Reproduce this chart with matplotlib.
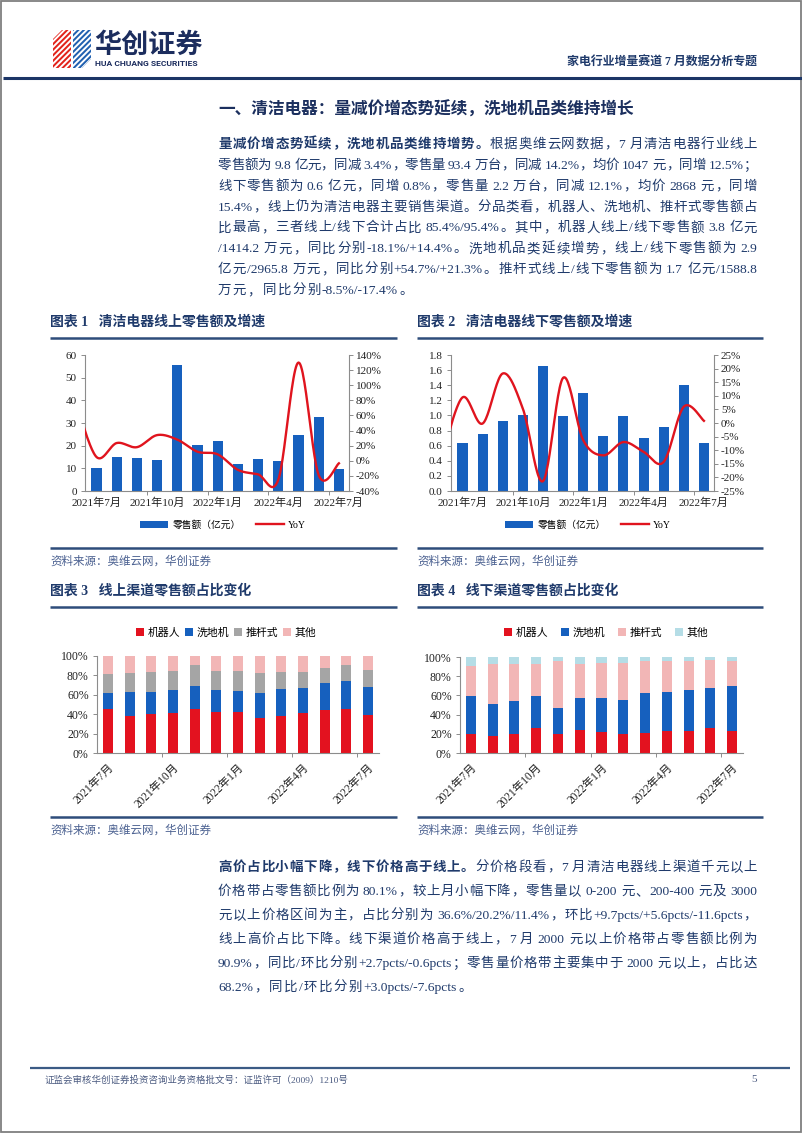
import matplotlib
matplotlib.use('Agg')
import numpy as np
import matplotlib.pyplot as plt
from matplotlib.patches import Rectangle, Polygon, Patch
from matplotlib.lines import Line2D

# ---------------- data ----------------
months = ['2021年7月', '2021年8月', '2021年9月', '2021年10月', '2021年11月', '2021年12月',
          '2022年1月', '2022年2月', '2022年3月', '2022年4月', '2022年5月', '2022年6月', '2022年7月']
tick_months = ['2021年7月', '2021年10月', '2022年1月', '2022年4月', '2022年7月']

online_sales = [10.3, 14.8, 14.6, 13.8, 55.5, 20.4, 22.0, 11.8, 14.2, 13.1, 24.6, 32.7, 9.8]
# YoY series begins at 2021年6月 (partly hidden behind the left axis)
online_yoy = [75, 5, 23.5, 18, 34, 28, 12, 8.5, -12, -18, -25, 130, -19, -3.4]
offline_sales = [0.64, 0.75, 0.93, 1.01, 1.65, 0.99, 1.30, 0.73, 0.99, 0.70, 0.85, 1.40, 0.64]
offline_yoy = [-12, 9.4, -0.2, 18.2, 5.3, -21.4, 16.6, -6.3, -11.9, -7.0, -10.6, -14.3, 6.0, 0.8]

share_labels = ['机器人', '洗地机', '推杆式', '其他']
on_robot = [45, 38.5, 40, 41, 45, 42.5, 42.5, 36.5, 38.5, 41, 44, 45, 38.8]
on_wash = [17, 24, 22.5, 23.5, 24.5, 22, 21.5, 25, 27.5, 26.5, 28.5, 29, 29.6]
on_push = [19, 20, 21.5, 20.5, 21, 20, 20.5, 20.5, 18, 16.5, 15.5, 16.5, 17]
on_other = [19, 17.5, 16, 15, 9.5, 15.5, 15.5, 18, 16, 16, 12, 9.5, 14.6]

off_robot = [20, 17.5, 20, 26.5, 19.5, 23.5, 22, 19.5, 21, 23, 22.5, 26, 22.5]
off_wash = [39, 34, 34, 33, 27.5, 33.5, 35.5, 36, 41.5, 40.5, 43.5, 41.5, 47.3]
off_push = [32, 41.5, 39, 33.5, 48.5, 36, 36.5, 38.5, 33, 32, 29.5, 29.5, 25.6]
off_other = [9, 7, 7, 7, 4.5, 7, 6, 6, 4.5, 4.5, 4.5, 3, 4.6]

# ---------------- style ----------------
W, H = 802, 1133
BODY = ['Liberation Serif', 'Noto Sans CJK SC']
plt.rcParams['font.family'] = BODY
plt.rcParams['hatch.color'] = 'white'
plt.rcParams['hatch.linewidth'] = 1.4
NAVY = '#1F3A6B'
RULE = '#2E4D7B'
BAR_BLUE = '#1660BE'
LINE_RED = '#E0141E'
S_RED = '#E3121F'
S_BLUE = '#1660BE'
S_GRAY = '#A5A5A5'
S_PINK = '#F2B6B6'
S_LBLUE = '#B5DDE6'
AX_GRAY = '#8C8C8C'
TICK_COL = '#222222'

fig = plt.figure(figsize=(W / 100, H / 100), dpi=100)
bg = fig.add_axes([0, 0, 1, 1], zorder=-5)
bg.set_xlim(0, W)
bg.set_ylim(H, 0)
bg.axis('off')
renderer = fig.canvas.get_renderer()

# page frame
bg.add_patch(Rectangle((0.8, 0.8), W - 1.6, H - 1.6, fill=False, edgecolor='#7F7F7F', lw=1.3))

# logo
bg.add_patch(Polygon([(53, 68), (53, 39), (62, 30), (71, 30), (71, 68)], closed=True,
                     facecolor='#E2231A', edgecolor='white', hatch='//////', lw=0))
bg.add_patch(Polygon([(73, 30), (91, 30), (91, 59), (82, 68), (73, 68)], closed=True,
                     facecolor='#2060B0', edgecolor='white', hatch='//////', lw=0))
bg.text(94, 45, '华创证券', fontsize=19.5, fontweight='black', color='#1C2D5E',
        family=['Noto Sans CJK SC'], va='center', ha='left')
bg.text(95, 63.5, 'HUA CHUANG SECURITIES', fontsize=6.1, fontweight='bold', color='#1C2D5E',
        family=['Roboto', 'DejaVu Sans'], va='center', ha='left')
bg.text(757, 63, '家电行业增量赛道 7 月数据分析专题', fontsize=8.6, fontweight='bold', color=NAVY,
        va='center', ha='right')
bg.plot([3, W], [78, 78], color='#1B3566', lw=2.2, solid_capstyle='butt')

# ---------------- justified text ----------------
BODY_SIZE = 9.7


def tokens_of(segments):
    toks = []
    pend = False
    for text, bold in segments:
        buf = ''
        for ch in text:
            if ch == ' ':
                if buf:
                    toks.append([buf, bold, pend]); buf = ''; pend = False
                pend = True
            elif ord(ch) < 128:
                buf += ch
            else:
                if buf:
                    toks.append([buf, bold, pend]); buf = ''; pend = False
                toks.append([ch, bold, pend]); pend = False
        if buf:
            toks.append([buf, bold, pend]); pend = False
    return toks


def draw_line(segments, yc, justify=True, x0=218, x1=757, size=BODY_SIZE, color=NAVY):
    toks = tokens_of(segments)
    widths = []
    for tok in toks:
        t = bg.text(0, 0, tok[0], fontsize=size, fontweight='bold' if tok[1] else 'normal')
        widths.append(t.get_window_extent(renderer).width)
        t.remove()
    px = size * 100 / 72
    sp = 0.25 * px
    nsp = sum(1 for tk in toks[1:] if tk[2])
    n = len(toks)
    if justify and n > 1:
        base = (x1 - x0 - sum(widths) - nsp * sp) / (n - 1)
    else:
        base = 0.1 * px
    x = x0
    for i, (tok, w) in enumerate(zip(toks, widths)):
        if i > 0:
            x += base + (sp if tok[2] else 0)
        bg.text(x, yc + 0.36 * px, tok[0], fontsize=size, color=color,
                fontweight='bold' if tok[1] else 'normal', ha='left', va='baseline')
        x += w


bg.text(218, 110, '一、清洁电器：量减价增态势延续，洗地机品类维持增长', fontsize=12,
        fontweight='bold', color='#1B2F5E', ha='left', va='center')

para1 = [
    [('量减价增态势延续，洗地机品类维持增势。', True), ('根据奥维云网数据，7 月清洁电器行业线上', False)],
    [('零售额为 9.8 亿元，同减 3.4%，零售量 93.4 万台，同减 14.2%，均价 1047 元，同增 12.5%；', False)],
    [('线下零售额为 0.6 亿元，同增 0.8%，零售量 2.2 万台，同减 12.1%，均价 2868 元，同增', False)],
    [('15.4%，线上仍为清洁电器主要销售渠道。分品类看，机器人、洗地机、推杆式零售额占', False)],
    [('比最高，三者线上/线下合计占比 85.4%/95.4%。其中，机器人线上/线下零售额 3.8 亿元', False)],
    [('/1414.2 万元，同比分别-18.1%/+14.4%。洗地机品类延续增势，线上/线下零售额为 2.9', False)],
    [('亿元/2965.8 万元，同比分别+54.7%/+21.3%。推杆式线上/线下零售额为 1.7 亿元/1588.8', False)],
    [('万元，同比分别-8.5%/-17.4%。', False)],
]
for i, segs in enumerate(para1):
    draw_line(segs, 143 + 20.9 * i, justify=(i < len(para1) - 1))

para2 = [
    [('高价占比小幅下降，线下价格高于线上。', True), ('分价格段看，7 月清洁电器线上渠道千元以上', False)],
    [('价格带占零售额比例为 80.1%，较上月小幅下降，零售量以 0-200 元、200-400 元及 3000', False)],
    [('元以上价格区间为主，占比分别为 36.6%/20.2%/11.4%，环比+9.7pcts/+5.6pcts/-11.6pcts，', False)],
    [('线上高价占比下降。线下渠道价格高于线上，7 月 2000 元以上价格带占零售额比例为', False)],
    [('90.9%，同比/环比分别+2.7pcts/-0.6pcts；零售量价格带主要集中于 2000 元以上，占比达', False)],
    [('68.2%，同比/环比分别+3.0pcts/-7.6pcts。', False)],
]
for i, segs in enumerate(para2):
    draw_line(segs, 866 + 24 * i, justify=(i < len(para2) - 1))

# chart titles, rules and sources
for xl, xr, title, ytitle in [(50, 397, '图表 1   清洁电器线上零售额及增速', 322),
                              (417, 763, '图表 2   清洁电器线下零售额及增速', 322),
                              (50, 397, '图表 3   线上渠道零售额占比变化', 591),
                              (417, 763, '图表 4   线下渠道零售额占比变化', 591)]:
    bg.text(xl, ytitle, title, fontsize=10, fontweight='bold', color='#1F3A6B', ha='left', va='center')
    bg.plot([xl, xr], [ytitle + 16, ytitle + 16], color=RULE, lw=1.8, solid_capstyle='butt')
    ysrc_rule = 548 if ytitle < 500 else 817
    bg.plot([xl, xr], [ysrc_rule, ysrc_rule], color=RULE, lw=1.8, solid_capstyle='butt')
    bg.text(xl, ysrc_rule + 14, '资料来源：奥维云网，华创证券', fontsize=8.3, style='italic',
            color='#4A6090', ha='left', va='center')

# footer
bg.plot([30, 790], [1068, 1068], color='#3B5B85', lw=1.6, solid_capstyle='butt')
bg.text(45, 1080, '证监会审核华创证券投资咨询业务资格批文号：证监许可（2009）1210号', fontsize=6.8,
        color='#4A5A80', ha='left', va='center')
bg.text(757, 1080, '5', fontsize=8, color='#4A5A80', ha='right', va='center')


# ---------------- helpers ----------------
def smooth(x, y, n=24):
    P = np.column_stack([np.asarray(x, float), np.asarray(y, float)])
    E = np.vstack([P[0], P, P[-1]])
    t = np.linspace(0, 1, n, endpoint=False)[:, None]
    out = []
    for i in range(1, len(E) - 2):
        p0, p1, p2, p3 = E[i - 1], E[i], E[i + 1], E[i + 2]
        c1 = p1 + (p2 - p0) / 6
        c2 = p2 - (p3 - p1) / 6
        out.append((1 - t) ** 3 * p1 + 3 * (1 - t) ** 2 * t * c1 + 3 * (1 - t) * t ** 2 * c2 + t ** 3 * p2)
    out.append(P[-1:])
    return np.vstack(out)


def px_axes(x0, y0, x1, y1):
    return fig.add_axes([x0 / W, 1 - y1 / H, (x1 - x0) / W, (y1 - y0) / H])


tick_pos = [months.index(m) for m in tick_months]
minor_pos = [p - 0.5 for p in tick_pos[1:]]


def dual_chart(box, sales, yoy, ymax, ystep, yfmt, y2min, y2max, y2step, leg_cx):
    ax = px_axes(*box)
    idx = np.arange(len(months))
    ax.bar(idx, sales, width=0.5, color=BAR_BLUE, zorder=2)
    ax.set_xlim(-0.57, len(months) - 0.5)
    ax.set_ylim(0, ymax)
    yt = np.arange(0, ymax + ystep / 2, ystep)
    ax.set_yticks(yt)
    ax.set_yticklabels([yfmt.format(v) for v in yt])
    ax.set_xticks(tick_pos)
    ax.set_xticklabels(tick_months)
    ax.set_xticks(minor_pos, minor=True)
    ax.tick_params(axis='x', which='major', length=0, pad=5, labelsize=8, colors=TICK_COL)
    ax.tick_params(axis='x', which='minor', length=3, width=0.7, color=AX_GRAY, direction='out')
    ax.tick_params(axis='y', length=3, width=0.7, color=AX_GRAY, labelsize=8, labelcolor=TICK_COL, pad=3)
    for s in ['top', 'right']:
        ax.spines[s].set_visible(False)
    for s in ['left', 'bottom']:
        ax.spines[s].set_color(AX_GRAY)
        ax.spines[s].set_linewidth(0.8)
    ax2 = ax.twinx()
    xl = np.arange(-1, len(months))
    c = smooth(xl, yoy)
    ax2.plot(c[:, 0], c[:, 1], color=LINE_RED, lw=1.7, zorder=3)
    ax2.set_ylim(y2min, y2max)
    yt2 = np.arange(y2min, y2max + y2step / 2, y2step)
    ax2.set_yticks(yt2)
    ax2.set_yticklabels(['{:.0f}%'.format(v) for v in yt2])
    ax2.tick_params(axis='y', length=3, width=0.7, color=AX_GRAY, labelsize=8, labelcolor=TICK_COL, pad=2)
    for s in ['top', 'left', 'bottom']:
        ax2.spines[s].set_visible(False)
    ax2.spines['right'].set_color(AX_GRAY)
    ax2.spines['right'].set_linewidth(0.8)
    handles = [Patch(facecolor=BAR_BLUE), Line2D([], [], color=LINE_RED, lw=1.7)]
    fig.legend(handles, ['零售额（亿元）', 'YoY'], loc='center', bbox_to_anchor=(leg_cx / W, 1 - 525 / H),
               ncol=2, frameon=False, prop={'size': 7}, handlelength=2.9, handleheight=0.8,
               columnspacing=1.6, handletextpad=0.4)


dual_chart((85, 355, 349, 491), online_sales, online_yoy, 60, 10, '{:.0f}', -40, 140, 20, 223)
dual_chart((451, 355, 714, 491), offline_sales, offline_yoy, 1.8, 0.2, '{:.1f}', -25, 25, 5, 588)


def stack_chart(box, series, colors, leg_cx, colsp):
    ax = px_axes(*box)
    idx = np.arange(len(months))
    bottom = np.zeros(len(months))
    handles = []
    for vals, col in zip(series, colors):
        ax.bar(idx, vals, width=0.46, bottom=bottom, color=col, zorder=2)
        bottom = bottom + np.asarray(vals)
        handles.append(Patch(facecolor=col))
    ax.set_xlim(-0.5, len(months) - 0.5)
    ax.set_ylim(0, 100)
    yt = np.arange(0, 101, 20)
    ax.set_yticks(yt)
    ax.set_yticklabels(['{}%'.format(v) for v in yt])
    ax.set_xticks(tick_pos)
    ax.set_xticklabels(tick_months, rotation=45, ha='right', va='top', rotation_mode='anchor')
    ax.set_xticks(minor_pos, minor=True)
    ax.tick_params(axis='x', which='major', length=0, pad=6, labelsize=8.3, colors=TICK_COL)
    ax.tick_params(axis='x', which='minor', length=3, width=0.7, color=AX_GRAY, direction='out')
    ax.tick_params(axis='y', length=3, width=0.7, color=AX_GRAY, labelsize=8.5, labelcolor=TICK_COL, pad=3)
    for s in ['top', 'right']:
        ax.spines[s].set_visible(False)
    for s in ['left', 'bottom']:
        ax.spines[s].set_color(AX_GRAY)
        ax.spines[s].set_linewidth(0.8)
    fig.legend(handles, share_labels, loc='center', bbox_to_anchor=(leg_cx / W, 1 - 633 / H),
               ncol=4, frameon=False, prop={'size': 7.8}, handlelength=0.75, handleheight=0.75,
               columnspacing=colsp, handletextpad=0.3)


stack_chart((97, 656, 379, 753), [on_robot, on_wash, on_push, on_other],
            [S_RED, S_BLUE, S_GRAY, S_PINK], 226, 0.45)
stack_chart((460, 657, 743, 753), [off_robot, off_wash, off_push, off_other],
            [S_RED, S_BLUE, S_PINK, S_LBLUE], 606, 1.2)

fig.savefig('out.png', dpi=100)
